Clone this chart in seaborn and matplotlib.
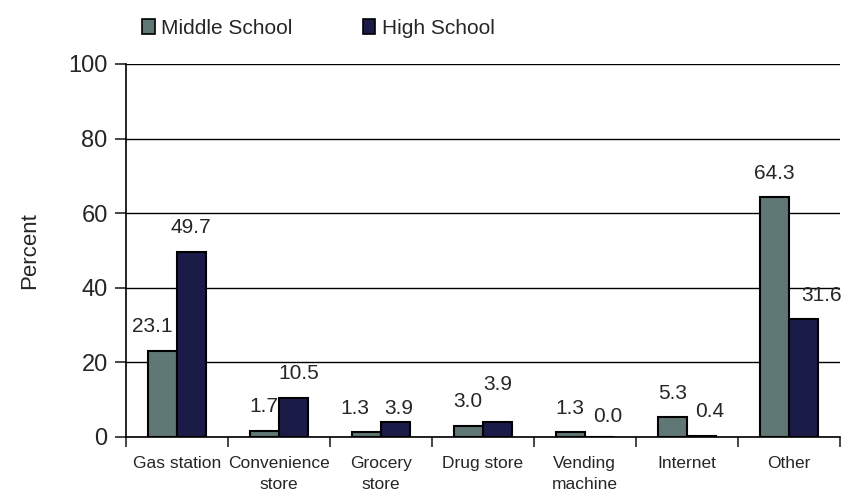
import numpy as np
import pandas as pd
import seaborn as sns
import matplotlib.pyplot as plt
from matplotlib.ticker import FixedLocator

# data
places = ['Gas station', 'Convenience\nstore', 'Grocery\nstore', 'Drug store',
          'Vending\nmachine', 'Internet', 'Other']
middle_school = [23.1, 1.7, 1.3, 3.0, 1.3, 5.3, 64.3]
high_school = [49.7, 10.5, 3.9, 3.9, 0.0, 0.4, 31.6]
groups = ['Middle School', 'High School']
colors = ['#5f7775', '#1b1b48']

df = pd.DataFrame({
    'place': places * 2,
    'group': [groups[0]] * len(places) + [groups[1]] * len(places),
    'pct': middle_school + high_school,
})

sns.set_style('white')
plt.rcParams['font.family'] = ['Liberation Sans', 'DejaVu Sans']

fig = plt.figure(figsize=(8.44, 4.94), dpi=100)
ax = fig.add_axes([0.149, 0.1154, 0.846, 0.7551])

sns.barplot(data=df, x='place', y='pct', hue='group', order=places, hue_order=groups,
            palette=colors, width=0.57, edgecolor='black', linewidth=1.5,
            saturation=1, ax=ax, legend=False)

ax.set_xlim(-0.5, 6.5)
ax.set_ylim(0, 100)
ax.set_yticks(np.arange(0, 101, 20))
ax.grid(axis='y', color='black', linewidth=1)
ax.set_axisbelow(True)
for s in ['top', 'right']:
    ax.spines[s].set_visible(False)
for s in ['left', 'bottom']:
    ax.spines[s].set_color('black')
    ax.spines[s].set_linewidth(1.2)

ax.tick_params(axis='y', direction='out', length=8, width=1.2, labelsize=17, pad=5, left=True)
ax.tick_params(axis='x', which='major', length=0, labelsize=12.5, pad=14)
ax.xaxis.set_minor_locator(FixedLocator(np.arange(-0.5, 7, 1)))
ax.tick_params(axis='x', which='minor', direction='out', length=7, width=1.2, bottom=True)
for lab in ax.get_xticklabels():
    lab.set_linespacing(1.45)
ax.set_xlabel('')
ax.set_ylabel('Percent', fontsize=16, labelpad=20)

# value labels above bars, Excel put a few of them off-centre (pixels)
nudge = {(0, 0): (-10, 0), (0, 2): (-11, 0), (1, 1): (5, 0), (1, 2): (3, -10),
         (1, 3): (0, 14), (1, 4): (8, -4), (1, 5): (8, 0), (1, 6): (18, 0)}
for gi, cont in enumerate(ax.containers):
    for bi, bar in enumerate(cont):
        h = bar.get_height()
        dx, dy = nudge.get((gi, bi), (0, 0))
        ax.annotate(f'{h:.1f}', (bar.get_x() + bar.get_width() / 2, h),
                    xytext=(dx * 0.72, (24 + dy) * 0.72), textcoords='offset points',
                    ha='center', va='center', fontsize=15)

handles = [plt.Rectangle((0, 0), 1, 1, facecolor=c, edgecolor='black', linewidth=1.2)
           for c in colors]
fig.legend(handles, groups, loc='center left', bbox_to_anchor=(142 / 844, 0.943), ncol=2,
           frameon=False, fontsize=15, handlelength=0.6, handleheight=0.75,
           handletextpad=0.3, columnspacing=3.4, borderpad=0, borderaxespad=0)

fig.savefig('out.png', dpi=100)
